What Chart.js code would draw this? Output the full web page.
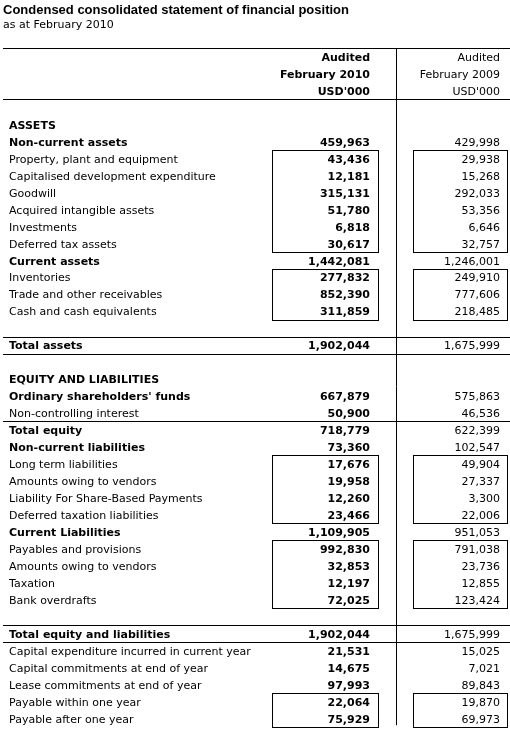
<!DOCTYPE html>
<html>
<head>
<meta charset="utf-8">
<script src="https://cdn.jsdelivr.net/npm/chart.js@4.4.1/dist/chart.umd.min.js"></script>
<style>
  html, body { margin: 0; padding: 0; background: #ffffff; }
  #wrap { width: 510px; height: 733px; position: relative; }
</style>
</head>
<body>
<div id="wrap"><canvas id="c"></canvas></div>
<script>
// ---------- DATA ----------
const titleText = "Condensed consolidated statement of financial position";
const subtitleText = "as at February 2010";

const header2010 = ["Audited", "February 2010", "USD'000"];
const header2009 = ["Audited", "February 2009", "USD'000"];

const rowLabels = [
  "ASSETS",
  "Non-current assets",
  "Property, plant and equipment",
  "Capitalised development expenditure",
  "Goodwill",
  "Acquired intangible assets",
  "Investments",
  "Deferred tax assets",
  "Current assets",
  "Inventories",
  "Trade and other receivables",
  "Cash and cash equivalents",
  "",
  "Total assets",
  "",
  "EQUITY AND LIABILITIES",
  "Ordinary shareholders' funds",
  "Non-controlling interest",
  "Total equity",
  "Non-current liabilities",
  "Long term liabilities",
  "Amounts owing to vendors",
  "Liability For Share-Based Payments",
  "Deferred taxation liabilities",
  "Current Liabilities",
  "Payables and provisions",
  "Amounts owing to vendors",
  "Taxation",
  "Bank overdrafts",
  "",
  "Total equity and liabilities",
  "Capital expenditure incurred in current year",
  "Capital commitments at end of year",
  "Lease commitments at end of year",
  "Payable within one year",
  "Payable after one year"
];

const values2010 = [
  null, 459963, 43436, 12181, 315131, 51780, 6818, 30617,
  1442081, 277832, 852390, 311859,
  null, 1902044, null,
  null, 667879, 50900, 718779, 73360, 17676, 19958, 12260, 23466,
  1109905, 992830, 32853, 12197, 72025,
  null, 1902044, 21531, 14675, 97993, 22064, 75929
];

const values2009 = [
  null, 429998, 29938, 15268, 292033, 53356, 6646, 32757,
  1246001, 249910, 777606, 218485,
  null, 1675999, null,
  null, 575863, 46536, 622399, 102547, 49904, 27337, 3300, 22006,
  951053, 791038, 23736, 12855, 123424,
  null, 1675999, 15025, 7021, 89843, 19870, 69973
];

// ---------- LAYOUT / STYLE (not data) ----------
const layout = {
  firstBodyRow: 4,
  cols: { left: 3, right: 510, label: 9, v2010: 370, v2009: 500, divider: 396,
          box2010: [272, 378], box2009: [413, 507] },
  fullRules: [-0.5, 2.5, 16.5, 17.5, 21.5, 33.5, 34.5],
  boxes: [[6, 11], [13, 15], [24, 27], [29, 32], [38, 39]],
  dividerRows: [-0.5, 39.4],
  boldLabels: ["ASSETS", "Non-current assets", "Current assets", "Total assets",
    "EQUITY AND LIABILITIES", "Ordinary shareholders' funds", "Total equity",
    "Non-current liabilities", "Current Liabilities", "Total equity and liabilities"],
  font: "DejaVu Sans",
  size: 11,
  textDy: 1.5,
  color: "#000000"
};

const fmt = n => n.toLocaleString('en-US');

function columnPoints(values, headers, xAnchor) {
  const pts = [];
  headers.forEach((h, i) => pts.push({ x: xAnchor, y: i, t: h }));
  values.forEach((v, i) => {
    if (v !== null) pts.push({ x: xAnchor, y: i + layout.firstBodyRow, t: fmt(v) });
  });
  return pts;
}
function labelPoints() {
  const pts = [];
  rowLabels.forEach((l, i) => {
    if (l) pts.push({ x: layout.cols.label, y: i + layout.firstBodyRow, t: l });
  });
  return pts;
}

const tablePlugin = {
  id: 'tableDraw',
  afterDatasetsDraw(chart, args, opts) {
    const { ctx, scales: { x, y } } = chart;
    const X = v => x.getPixelForValue(v);
    const Y = v => y.getPixelForValue(v);
    const crisp = p => Math.round(p) + 0.5;
    ctx.save();
    ctx.strokeStyle = layout.color;
    ctx.lineWidth = 1;
    // full-width rules
    layout.fullRules.forEach(r => {
      const py = crisp(Y(r));
      ctx.beginPath();
      ctx.moveTo(X(layout.cols.left), py);
      ctx.lineTo(X(layout.cols.right), py);
      ctx.stroke();
    });
    // vertical divider
    const dx = Math.round(X(layout.cols.divider)) + 0.5;
    ctx.beginPath();
    ctx.moveTo(dx, Y(layout.dividerRows[0]));
    ctx.lineTo(dx, Y(layout.dividerRows[1]));
    ctx.stroke();
    // boxes
    layout.boxes.forEach(([r0, r1]) => {
      [layout.cols.box2010, layout.cols.box2009].forEach(([a, b]) => {
        const x0 = crisp(X(a)), x1 = crisp(X(b));
        const y0 = crisp(Y(r0 - 0.5)), y1 = crisp(Y(r1 + 0.5));
        ctx.strokeRect(x0, y0, x1 - x0, y1 - y0);
      });
    });
    // texts at point elements
    ctx.fillStyle = layout.color;
    ctx.textBaseline = 'middle';
    chart.data.datasets.forEach((ds, di) => {
      const meta = chart.getDatasetMeta(di);
      meta.data.forEach((el, i) => {
        const item = ds.data[i];
        let bold;
        if (ds.role === 'label') bold = layout.boldLabels.includes(item.t);
        else bold = ds.role === 'v2010';
        ctx.font = (bold ? 'bold ' : '') + layout.size + 'px "' + layout.font + '"';
        ctx.textAlign = ds.role === 'label' ? 'left' : 'right';
        ctx.fillText(item.t, el.x, el.y + layout.textDy);
      });
    });
    ctx.restore();
  }
};

const totalRows = rowLabels.length + layout.firstBodyRow; // 40

new Chart(document.getElementById('c'), {
  type: 'scatter',
  data: {
    datasets: [
      { role: 'label', data: labelPoints(), pointRadius: 0, pointHoverRadius: 0 },
      { role: 'v2010', data: columnPoints(values2010, header2010, layout.cols.v2010), pointRadius: 0, pointHoverRadius: 0 },
      { role: 'v2009', data: columnPoints(values2009, header2009, layout.cols.v2009), pointRadius: 0, pointHoverRadius: 0 }
    ]
  },
  options: {
    responsive: true,
    maintainAspectRatio: false,
    animation: false,
    events: [],
    layout: { padding: { left: 3, right: 0, top: 0, bottom: 0 } },
    scales: {
      x: { type: 'linear', min: 3, max: 510, display: false },
      y: { type: 'linear', reverse: true, min: -0.5, max: totalRows - 0.14, display: false }
    },
    plugins: {
      legend: { display: false },
      tooltip: { enabled: false },
      title: {
        display: true, text: titleText, align: 'start', color: '#000000',
        font: { family: 'Liberation Sans', size: 13, weight: 'bold', lineHeight: 1.2 },
        padding: { top: 3, bottom: 0 }
      },
      subtitle: {
        display: true, text: subtitleText, align: 'start', color: '#000000',
        font: { family: 'DejaVu Sans', size: 11, weight: 'normal', lineHeight: 1.2 },
        padding: { top: 0, bottom: 16.2 }
      }
    }
  },
  plugins: [tablePlugin]
});
</script>
</body>
</html>
